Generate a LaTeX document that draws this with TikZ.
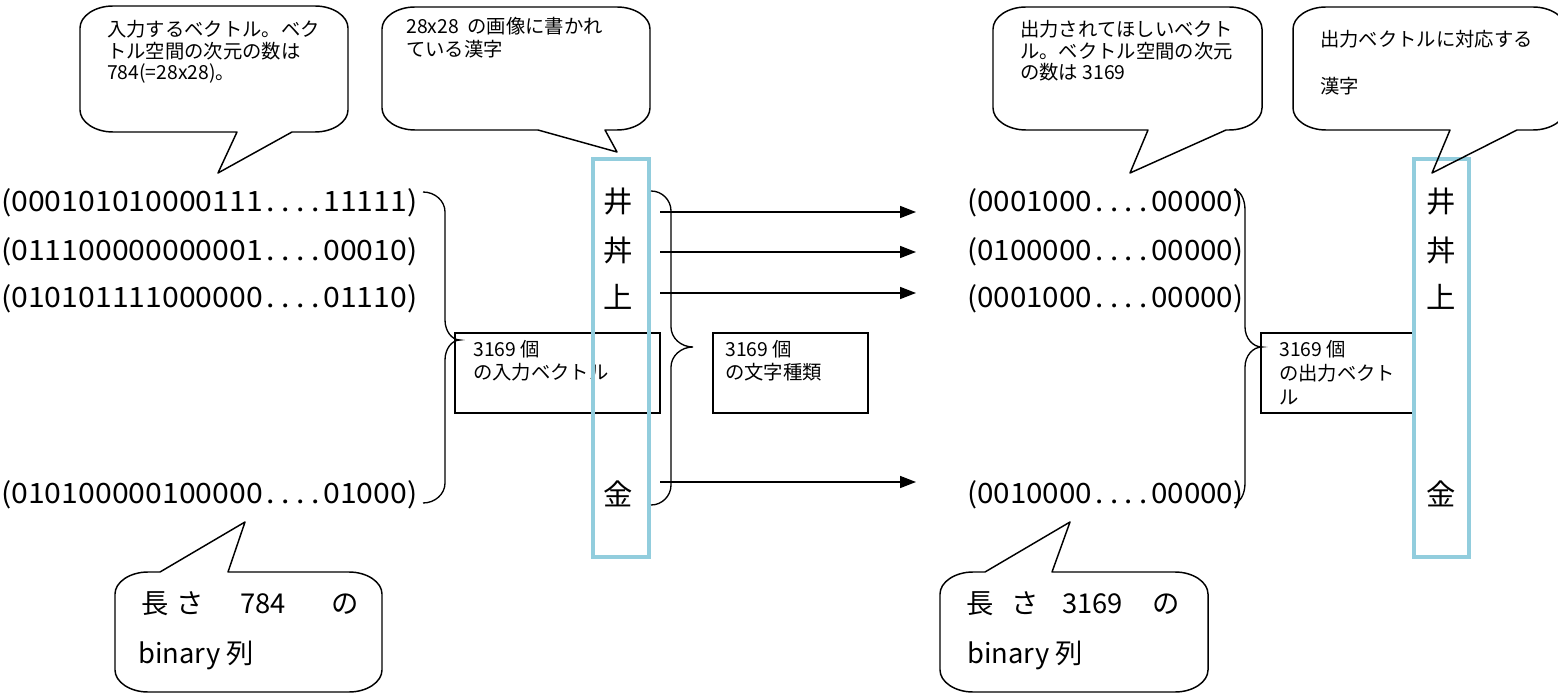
\documentclass[tikz,border=0pt]{standalone}
\usepackage{fontspec}
\setmainfont{Noto Sans CJK JP}
\usetikzlibrary{arrows.meta}
\definecolor{cyanbox}{RGB}{146,205,221}
\newcommand\dd{\makebox[0.5em]{.}}
% callout with tail at the bottom: x1,y1,x2,y2, tail-left, tip x, tip y, tail-right
\newcommand\bubbledown[8]{%
 \draw[bubble] (#1+33,#2) -- (#3-33,#2) .. controls (#3-15,#2) and (#3,#2+10) .. (#3,#2+22)
  -- (#3,#4-22) .. controls (#3,#4-10) and (#3-15,#4) .. (#3-33,#4)
  -- (#8,#4) -- (#6,#7) -- (#5,#4)
  -- (#1+33,#4) .. controls (#1+15,#4) and (#1,#4-10) .. (#1,#4-22)
  -- (#1,#2+22) .. controls (#1,#2+10) and (#1+15,#2) .. (#1+33,#2) -- cycle;}
% callout with tail at the top
\newcommand\bubbleup[8]{%
 \draw[bubble] (#1+33,#2) -- (#5,#2) -- (#6,#7) -- (#8,#2)
  -- (#3-33,#2) .. controls (#3-15,#2) and (#3,#2+10) .. (#3,#2+22)
  -- (#3,#4-22) .. controls (#3,#4-10) and (#3-15,#4) .. (#3-33,#4)
  -- (#1+33,#4) .. controls (#1+15,#4) and (#1,#4-10) .. (#1,#4-22)
  -- (#1,#2+22) .. controls (#1,#2+10) and (#1+15,#2) .. (#1+33,#2) -- cycle;}
% right curly brace: x0, x vertical, x tip, y top, y mid, y bottom
\newcommand\bracedraw[6]{%
 \draw[brace] (#1,#4) .. controls ({#1+0.55*(#2-#1)},#4) and (#2,#4+9) .. (#2,#4+20)
  -- (#2,#5-20) .. controls (#2,#5-9) and ({#2+0.45*(#3-#2)},#5) .. (#3,#5)
  .. controls ({#2+0.45*(#3-#2)},#5) and (#2,#5+9) .. (#2,#5+20)
  -- (#2,#6-20) .. controls (#2,#6-9) and ({#1+0.55*(#2-#1)},#6) .. (#1,#6);}
\begin{document}
\begin{tikzpicture}[x=0.75pt,y=-0.75pt,
  bubble/.style={draw=black,line width=1.1pt,line join=round},
  lbl/.style={inner sep=0pt,anchor=base west,font=\fontsize{14.5pt}{17pt}\selectfont},
  bin/.style={inner sep=0pt,anchor=base west,font=\fontsize{21pt}{24pt}\selectfont},
  kanji/.style={inner sep=0pt,anchor=base,font=\fontsize{22pt}{24pt}\selectfont},
  big/.style={inner sep=0pt,anchor=base west,font=\fontsize{20.5pt}{24pt}\selectfont},
  infobox/.style={draw=black,line width=1pt},
  brace/.style={draw=black,line width=1pt},
  conn/.style={line width=1.2pt,-{Triangle[length=12pt,width=9pt]}},
  colbox/.style={draw=cyanbox,line width=2.4pt}]
\useasboundingbox (0,0) rectangle (1558,695);

% info boxes
\draw[infobox] (455,333) rectangle (660,413);
\draw[infobox] (713,333) rectangle (868,413);
\draw[infobox] (1261,333) rectangle (1414,413);
\node[lbl] (b1a) at (473,356) {3169 個};
\node[lbl] (b1b) at (473,379) {の入力ベクトル};
\node[lbl] (b2a) at (725,356) {3169 個};
\node[lbl] (b2b) at (725,379) {の文字種類};
\node[lbl] (b3a) at (1279,356) {3169 個};
\node[lbl] (b3b) at (1279,380) {の出力ベクト};
\node[lbl] (b3c) at (1279,404) {ル};

% binary strings (left)
\node[bin] (l1) at (1,212) {\resizebox{312pt}{\height}{(000101010000111\dd\dd\dd\dd 11111)}};
\node[bin] (l2) at (1,260) {\resizebox{312pt}{\height}{(011100000000001\dd\dd\dd\dd 00010)}};
\node[bin] (l3) at (1,307) {\resizebox{312pt}{\height}{(010101111000000\dd\dd\dd\dd 01110)}};
\node[bin] (l4) at (1,503) {\resizebox{312pt}{\height}{(010100000100000\dd\dd\dd\dd 01000)}};
% binary strings (right)
\node[bin] (r1) at (967,212) {\resizebox{207pt}{\height}{(0001000\dd\dd\dd\dd 00000)}};
\node[bin] (r2) at (967,260) {\resizebox{207pt}{\height}{(0100000\dd\dd\dd\dd 00000)}};
\node[bin] (r3) at (967,307) {\resizebox{207pt}{\height}{(0001000\dd\dd\dd\dd 00000)}};
\node[bin] (r4) at (967,503) {\resizebox{207pt}{\height}{(0010000\dd\dd\dd\dd 00000)}};

% kanji columns
\node[kanji] (k1) at (618,213) {井};
\node[kanji] (k2) at (618,261) {丼};
\node[kanji] (k3) at (618,308) {上};
\node[kanji] (k4) at (618,505) {金};
\node[kanji] (q1) at (1441,213) {井};
\node[kanji] (q2) at (1441,261) {丼};
\node[kanji] (q3) at (1441,308) {上};
\node[kanji] (q4) at (1441,505) {金};

% cyan column boxes
\draw[colbox] (593,159) rectangle (649,557);
\draw[colbox] (1414,159) rectangle (1469,557);

% braces
\bracedraw{423}{445}{460}{192}{340}{503}
\bracedraw{651}{671}{693}{191}{347}{505}
\bracedraw{1234}{1245}{1262}{190}{347}{503}

% arrows
\coordinate (s1) at (660,212); \coordinate (e1) at (916,212);
\coordinate (s2) at (660,252); \coordinate (e2) at (916,252);
\coordinate (s3) at (660,293); \coordinate (e3) at (916,293);
\coordinate (s4) at (660,482); \coordinate (e4) at (916,482);
\draw[conn] (s1) -- (e1);
\draw[conn] (s2) -- (e2);
\draw[conn] (s3) -- (e3);
\draw[conn] (s4) -- (e4);

% callouts
\bubbledown{80}{6}{348}{132}{237}{218}{173}{292}
\node[lbl] (c1a) at (107,37) {入力するベクトル。ベク};
\node[lbl] (c1b) at (107,59) {トル空間の次元の数は};
\node[lbl] (c1c) at (107,80) {784(=28x28)。};

\bubbledown{382}{7}{650}{130}{538}{617}{152}{605}
\node[lbl] (c2a) at (406,34) {28x28\ \ の画像に書かれ};
\node[lbl] (c2b) at (406,57) {ている漢字};

\bubbledown{993}{7}{1262}{130}{1148}{1130}{173}{1226}
\node[lbl] (c3a) at (1020,37) {出力されてほしいベクト};
\node[lbl] (c3b) at (1020,59) {ル。ベクトル空間の次元};
\node[lbl] (c3c) at (1020,80) {の数は 3169};

\bubbledown{1293}{7}{1566}{130}{1450}{1432}{173}{1517}
\node[lbl] (c4a) at (1320,47) {出力ベクトルに対応する};
\node[lbl] (c4b) at (1320,94) {漢字};

\bubbleup{115}{572}{382}{692}{160}{245}{522}{228}
\node[big] (d1a) at (141,613) {長};
\node[big] (d1b) at (176,613) {さ};
\node[big] (d1c) at (240,613) {784};
\node[big] (d1d) at (331,613) {の};
\node[big] (d1e) at (138,663) {binary 列};

\bubbleup{940}{572}{1208}{692}{985}{1070}{522}{1052}
\node[big] (d2a) at (966,613) {長};
\node[big] (d2b) at (1011,613) {さ};
\node[big] (d2c) at (1062,613) {3169};
\node[big] (d2d) at (1152,613) {の};
\node[big] (d2e) at (967,663) {binary 列};
\end{tikzpicture}
\end{document}
